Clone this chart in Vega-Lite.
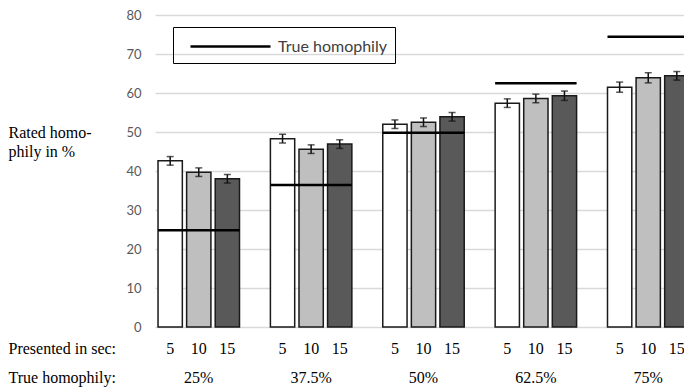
{
  "$schema": "https://vega.github.io/schema/vega-lite/v6.json",
  "width": 529,
  "height": 312,
  "autosize": {"type": "none"},
  "padding": {"left": 155, "top": 15, "right": 0, "bottom": 62},
  "background": "white",
  "config": {
    "view": {"stroke": null},
    "axisY": {
      "grid": true, "gridColor": "#d9d9d9", "gridWidth": 1.5,
      "domain": false, "ticks": false, "tickSize": 0, "labelPadding": 14,
      "labelFont": "Lato", "labelFontSize": 13, "labelColor": "#595959",
      "titleAngle": 0, "titleAlign": "left", "titleBaseline": "alphabetic",
      "titleX": -147, "titleY": 122, "titleLineHeight": 19,
      "titleFont": "Liberation Serif", "titleFontSize": 16, "titleFontWeight": "normal", "titleColor": "black"
    }
  },
  "datasets": {
    "bars": [
      {"group": "25%", "sec": "5", "mean": 42.6, "lo": 41.5, "hi": 43.7},
      {"group": "25%", "sec": "10", "mean": 39.7, "lo": 38.6, "hi": 40.8},
      {"group": "25%", "sec": "15", "mean": 38.0, "lo": 36.9, "hi": 39.1},
      {"group": "37.5%", "sec": "5", "mean": 48.3, "lo": 47.2, "hi": 49.4},
      {"group": "37.5%", "sec": "10", "mean": 45.6, "lo": 44.5, "hi": 46.7},
      {"group": "37.5%", "sec": "15", "mean": 46.9, "lo": 45.8, "hi": 48.0},
      {"group": "50%", "sec": "5", "mean": 52.0, "lo": 50.9, "hi": 53.1},
      {"group": "50%", "sec": "10", "mean": 52.5, "lo": 51.4, "hi": 53.6},
      {"group": "50%", "sec": "15", "mean": 53.9, "lo": 52.8, "hi": 55.0},
      {"group": "62.5%", "sec": "5", "mean": 57.4, "lo": 56.3, "hi": 58.5},
      {"group": "62.5%", "sec": "10", "mean": 58.6, "lo": 57.5, "hi": 59.7},
      {"group": "62.5%", "sec": "15", "mean": 59.3, "lo": 58.1, "hi": 60.5},
      {"group": "75%", "sec": "5", "mean": 61.5, "lo": 60.2, "hi": 62.8},
      {"group": "75%", "sec": "10", "mean": 63.9, "lo": 62.6, "hi": 65.2},
      {"group": "75%", "sec": "15", "mean": 64.4, "lo": 63.3, "hi": 65.5}
    ],
    "truth": [
      {"group": "25%", "true": 24.8},
      {"group": "37.5%", "true": 36.4},
      {"group": "50%", "true": 49.8},
      {"group": "62.5%", "true": 62.5},
      {"group": "75%", "true": 74.4}
    ]
  },
  "layer": [
    {
      "data": {"name": "bars"},
      "mark": {"type": "bar", "stroke": "#1a1a1a", "strokeWidth": 1.5},
      "encoding": {
        "x": {
          "field": "group", "type": "nominal",
          "sort": ["25%", "37.5%", "50%", "62.5%", "75%"],
          "scale": {"range": [0, 537], "paddingInner": 0.275, "paddingOuter": 0.027},
          "axis": {
            "title": ["Presented in sec:", "True homophily:"],
            "titleX": -147, "titleY": 26, "titleAlign": "left", "titleAnchor": "start",
            "titleBaseline": "alphabetic", "titleLineHeight": 29,
            "titleFont": "Liberation Serif", "titleFontSize": 16, "titleFontWeight": "normal", "titleColor": "black",
            "labelAngle": 0, "labelFont": "Liberation Serif", "labelFontSize": 16, "labelColor": "black",
            "labelPadding": 55, "labelBaseline": "alphabetic",
            "ticks": false, "tickSize": 0, "domain": false, "grid": false
          }
        },
        "xOffset": {"field": "sec", "type": "nominal", "sort": ["5", "10", "15"], "scale": {"paddingInner": 0.15}},
        "y": {
          "field": "mean", "type": "quantitative", "stack": null,
          "scale": {"domain": [0, 80], "nice": false},
          "axis": {"values": [0, 10, 20, 30, 40, 50, 60, 70, 80], "tickCount": 12, "labelOverlap": false, "title": ["Rated homo-", "phily in %"]}
        },
        "fill": {
          "field": "sec", "type": "nominal",
          "scale": {"domain": ["5", "10", "15"], "range": ["#ffffff", "#bfbfbf", "#595959"]},
          "legend": null
        }
      }
    },
    {
      "data": {"name": "bars"},
      "mark": {"type": "rule", "color": "#111111", "strokeWidth": 1.5},
      "encoding": {
        "x": {"field": "group", "type": "nominal"},
        "xOffset": {"field": "sec", "type": "nominal", "sort": ["5", "10", "15"]},
        "y": {"field": "lo", "type": "quantitative"},
        "y2": {"field": "hi"}
      }
    },
    {
      "data": {"name": "bars"},
      "mark": {"type": "tick", "orient": "horizontal", "color": "#111111", "size": 7, "thickness": 1.5},
      "encoding": {
        "x": {"field": "group", "type": "nominal"},
        "xOffset": {"field": "sec", "type": "nominal", "sort": ["5", "10", "15"]},
        "y": {"field": "lo", "type": "quantitative"}
      }
    },
    {
      "data": {"name": "bars"},
      "mark": {"type": "tick", "orient": "horizontal", "color": "#111111", "size": 7, "thickness": 1.5},
      "encoding": {
        "x": {"field": "group", "type": "nominal"},
        "xOffset": {"field": "sec", "type": "nominal", "sort": ["5", "10", "15"]},
        "y": {"field": "hi", "type": "quantitative"}
      }
    },
    {
      "data": {"name": "truth"},
      "mark": {"type": "rule", "strokeWidth": 2.5},
      "encoding": {
        "x": {"field": "group", "type": "nominal", "bandPosition": 0},
        "x2": {"field": "group", "bandPosition": 1},
        "y": {"field": "true", "type": "quantitative"},
        "stroke": {
          "datum": "True homophily",
          "scale": {"range": ["#000000"]},
          "legend": {
            "orient": "none", "legendX": 18, "legendY": 12, "title": null,
            "symbolType": "M-4,0H4", "symbolSize": 400, "symbolStrokeWidth": 2.5, "symbolStrokeColor": "#000000",
            "symbolFillColor": "transparent",
            "labelFont": "Lato", "labelFontSize": 16, "labelColor": "#404040", "labelOffset": 36,
            "strokeColor": "#000000", "padding": 8, "symbolOffset": 38
          }
        }
      }
    },
    {
      "data": {"name": "bars"},
      "mark": {"type": "text", "baseline": "alphabetic", "dy": 27, "font": "Liberation Serif", "fontSize": 16, "color": "black"},
      "encoding": {
        "x": {"field": "group", "type": "nominal"},
        "xOffset": {"field": "sec", "type": "nominal", "sort": ["5", "10", "15"]},
        "y": {"datum": 0, "type": "quantitative"},
        "text": {"field": "sec"}
      }
    }
  ]
}
